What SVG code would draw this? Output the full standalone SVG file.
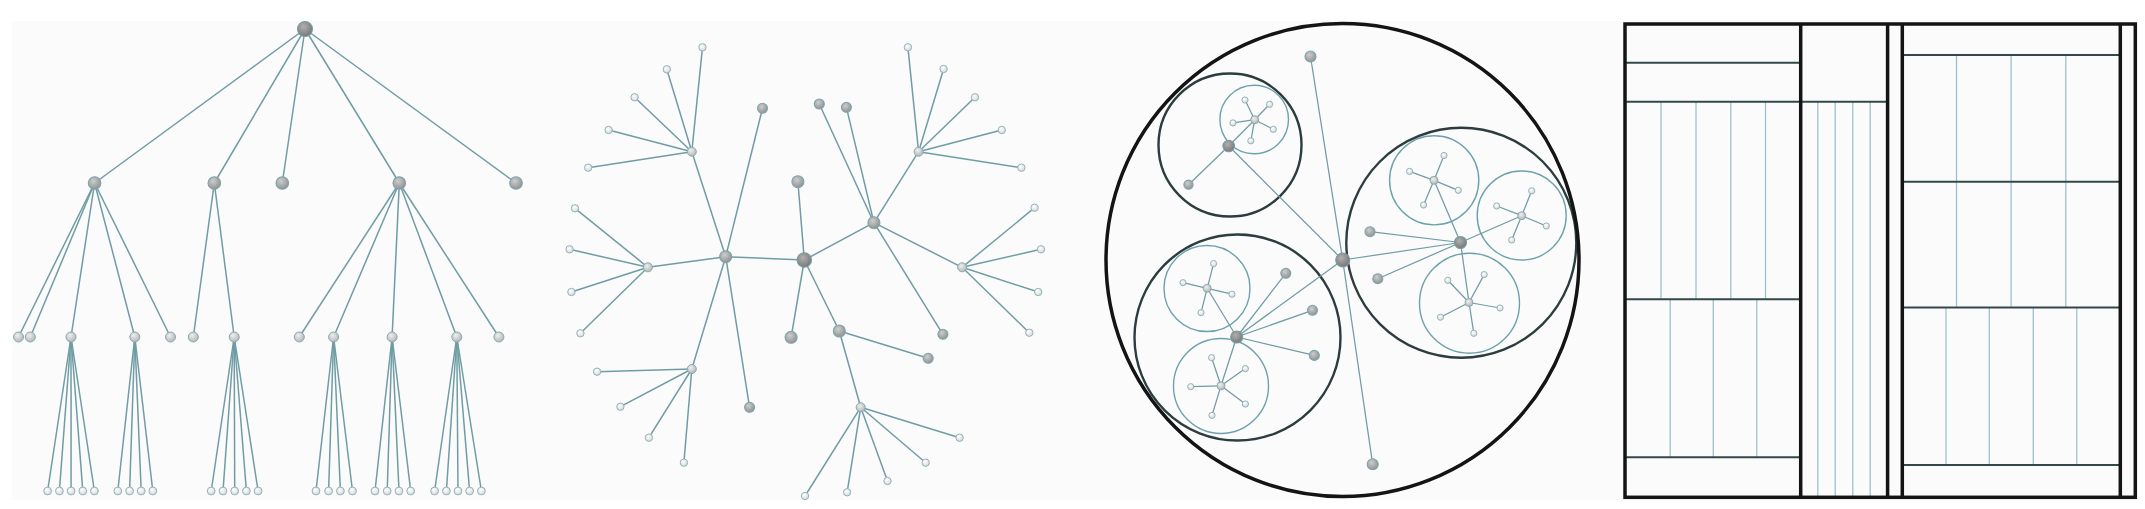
<svg xmlns="http://www.w3.org/2000/svg" width="2145" height="509" viewBox="0 0 2145 509">
<defs>
<radialGradient id="g0" cx="0.4" cy="0.35" r="0.7"><stop offset="0" stop-color="#b0b0b0"/><stop offset="1" stop-color="#747474"/></radialGradient>
<radialGradient id="g1" cx="0.4" cy="0.35" r="0.7"><stop offset="0" stop-color="#cdcdcd"/><stop offset="1" stop-color="#8e8e8e"/></radialGradient>
<radialGradient id="g2" cx="0.4" cy="0.35" r="0.7"><stop offset="0" stop-color="#eeeeee"/><stop offset="1" stop-color="#b2b2b2"/></radialGradient>
<radialGradient id="g3" cx="0.4" cy="0.35" r="0.7"><stop offset="0" stop-color="#ffffff"/><stop offset="1" stop-color="#d4d4d4"/></radialGradient>
</defs>
<style>
.e line{stroke:#6f9ca5;stroke-width:1.5;fill:none}
.e2 line{stroke:#6f9ca5;stroke-width:1.25;fill:none}
.n0 circle{fill:url(#g0);stroke:#7a9ca3;stroke-width:1.1}
.n1 circle{fill:url(#g1);stroke:#7ea4ac;stroke-width:1.1}
.n2 circle{fill:url(#g2);stroke:#88abb2;stroke-width:1}
.n3 circle{fill:url(#g3);stroke:#93b5bc;stroke-width:1}
.c0{fill:none;stroke:#141414;stroke-width:3.5}
.c1{fill:none;stroke:#2d3c3e;stroke-width:2.4}
.c2{fill:none;stroke:#6da2ad;stroke-width:1.4}
.tl{stroke:#9dc1cc;stroke-width:1.3}
.th{stroke:#34474a;stroke-width:2}
.tk{stroke:#141414;stroke-width:3.5;fill:none}
</style>
<rect x="0" y="0" width="2145" height="509" fill="#ffffff"/>
<rect x="12" y="21" width="2126" height="479" fill="#fcfbfb"/>

<!-- ===== Panel 1: tree ===== -->
<g id="tree-edges" class="e">
<line x1="305" y1="29" x2="94.6" y2="183"/><line x1="305" y1="29" x2="214.3" y2="183"/><line x1="305" y1="29" x2="282.3" y2="183"/><line x1="305" y1="29" x2="399.3" y2="183"/><line x1="305" y1="29" x2="516" y2="183"/>
<line x1="94.6" y1="183" x2="18.5" y2="337"/><line x1="94.6" y1="183" x2="30.3" y2="337"/><line x1="94.6" y1="183" x2="71" y2="337"/><line x1="94.6" y1="183" x2="134.8" y2="337"/><line x1="94.6" y1="183" x2="170.5" y2="337"/>
<line x1="214.3" y1="183" x2="193.3" y2="337"/><line x1="214.3" y1="183" x2="234.2" y2="337"/>
<line x1="399.3" y1="183" x2="299.3" y2="337"/><line x1="399.3" y1="183" x2="333.6" y2="337"/><line x1="399.3" y1="183" x2="392.1" y2="337"/><line x1="399.3" y1="183" x2="456.8" y2="337"/><line x1="399.3" y1="183" x2="498.9" y2="337"/>
<line x1="71" y1="337" x2="47.6" y2="491"/><line x1="71" y1="337" x2="59.4" y2="491"/><line x1="71" y1="337" x2="71.1" y2="491"/><line x1="71" y1="337" x2="82.8" y2="491"/><line x1="71" y1="337" x2="94.4" y2="491"/>
<line x1="134.8" y1="337" x2="117.8" y2="491"/><line x1="134.8" y1="337" x2="129.6" y2="491"/><line x1="134.8" y1="337" x2="141.2" y2="491"/><line x1="134.8" y1="337" x2="152.8" y2="491"/>
<line x1="234.2" y1="337" x2="211.2" y2="491"/><line x1="234.2" y1="337" x2="223" y2="491"/><line x1="234.2" y1="337" x2="234.7" y2="491"/><line x1="234.2" y1="337" x2="246.4" y2="491"/><line x1="234.2" y1="337" x2="258.1" y2="491"/>
<line x1="333.6" y1="337" x2="316" y2="491"/><line x1="333.6" y1="337" x2="328.6" y2="491"/><line x1="333.6" y1="337" x2="340.4" y2="491"/><line x1="333.6" y1="337" x2="352.5" y2="491"/>
<line x1="392.1" y1="337" x2="375" y2="491"/><line x1="392.1" y1="337" x2="387.2" y2="491"/><line x1="392.1" y1="337" x2="399" y2="491"/><line x1="392.1" y1="337" x2="410.7" y2="491"/>
<line x1="456.8" y1="337" x2="434.6" y2="491"/><line x1="456.8" y1="337" x2="446.4" y2="491"/><line x1="456.8" y1="337" x2="458" y2="491"/><line x1="456.8" y1="337" x2="469.6" y2="491"/><line x1="456.8" y1="337" x2="481.4" y2="491"/>
</g>
<g id="tree-nodes">
<g id="t-root" class="n0"><circle cx="305" cy="29" r="7.5"/></g>
<g id="t-a" class="n1"><circle cx="94.6" cy="183" r="6.3"/></g>
<g id="t-b" class="n1"><circle cx="214.3" cy="183" r="6.3"/></g>
<g id="t-c" class="n1"><circle cx="282.3" cy="183" r="6.3"/></g>
<g id="t-d" class="n1"><circle cx="399.3" cy="183" r="6.3"/></g>
<g id="t-e" class="n1"><circle cx="516" cy="183" r="6.3"/></g>
<g id="t-a1" class="n2"><circle cx="18.5" cy="337" r="5"/></g>
<g id="t-a2" class="n2"><circle cx="30.3" cy="337" r="5"/></g>
<g id="t-a3" class="n2"><circle cx="71" cy="337" r="5"/></g>
<g id="t-a4" class="n2"><circle cx="134.8" cy="337" r="5"/></g>
<g id="t-a5" class="n2"><circle cx="170.5" cy="337" r="5"/></g>
<g id="t-b1" class="n2"><circle cx="193.3" cy="337" r="5"/></g>
<g id="t-b2" class="n2"><circle cx="234.2" cy="337" r="5"/></g>
<g id="t-d1" class="n2"><circle cx="299.3" cy="337" r="5"/></g>
<g id="t-d2" class="n2"><circle cx="333.6" cy="337" r="5"/></g>
<g id="t-d3" class="n2"><circle cx="392.1" cy="337" r="5"/></g>
<g id="t-d4" class="n2"><circle cx="456.8" cy="337" r="5"/></g>
<g id="t-d5" class="n2"><circle cx="498.9" cy="337" r="5"/></g>
<g id="t-leaves" class="n3">
<g id="t-l1"><circle cx="47.6" cy="491" r="3.9"/></g><g id="t-l2"><circle cx="59.4" cy="491" r="3.9"/></g><g id="t-l3"><circle cx="71.1" cy="491" r="3.9"/></g><g id="t-l4"><circle cx="82.8" cy="491" r="3.9"/></g><g id="t-l5"><circle cx="94.4" cy="491" r="3.9"/></g>
<g id="t-l6"><circle cx="117.8" cy="491" r="3.9"/></g><g id="t-l7"><circle cx="129.6" cy="491" r="3.9"/></g><g id="t-l8"><circle cx="141.2" cy="491" r="3.9"/></g><g id="t-l9"><circle cx="152.8" cy="491" r="3.9"/></g>
<g id="t-l10"><circle cx="211.2" cy="491" r="3.9"/></g><g id="t-l11"><circle cx="223" cy="491" r="3.9"/></g><g id="t-l12"><circle cx="234.7" cy="491" r="3.9"/></g><g id="t-l13"><circle cx="246.4" cy="491" r="3.9"/></g><g id="t-l14"><circle cx="258.1" cy="491" r="3.9"/></g>
<g id="t-l15"><circle cx="316" cy="491" r="3.9"/></g><g id="t-l16"><circle cx="328.6" cy="491" r="3.9"/></g><g id="t-l17"><circle cx="340.4" cy="491" r="3.9"/></g><g id="t-l18"><circle cx="352.5" cy="491" r="3.9"/></g>
<g id="t-l19"><circle cx="375" cy="491" r="3.9"/></g><g id="t-l20"><circle cx="387.2" cy="491" r="3.9"/></g><g id="t-l21"><circle cx="399" cy="491" r="3.9"/></g><g id="t-l22"><circle cx="410.7" cy="491" r="3.9"/></g>
<g id="t-l23"><circle cx="434.6" cy="491" r="3.9"/></g><g id="t-l24"><circle cx="446.4" cy="491" r="3.9"/></g><g id="t-l25"><circle cx="458" cy="491" r="3.9"/></g><g id="t-l26"><circle cx="469.6" cy="491" r="3.9"/></g><g id="t-l27"><circle cx="481.4" cy="491" r="3.9"/></g>
</g>
</g>

<!-- ===== Panel 2: radial tree ===== -->
<g id="radial-edges" class="e">
<line x1="804.3" y1="260" x2="725.7" y2="256.7"/><line x1="804.3" y1="260" x2="797.9" y2="181.7"/><line x1="804.3" y1="260" x2="791.1" y2="337.3"/><line x1="804.3" y1="260" x2="873.9" y2="222.7"/><line x1="804.3" y1="260" x2="839.3" y2="331"/>
<line x1="725.7" y1="256.7" x2="691.8" y2="151.7"/><line x1="725.7" y1="256.7" x2="762.5" y2="108.3"/><line x1="725.7" y1="256.7" x2="647.9" y2="267.3"/><line x1="725.7" y1="256.7" x2="691.8" y2="369"/><line x1="725.7" y1="256.7" x2="749.6" y2="407.3"/>
<line x1="691.8" y1="151.7" x2="702.5" y2="47.3"/><line x1="691.8" y1="151.7" x2="666.8" y2="69.3"/><line x1="691.8" y1="151.7" x2="634.6" y2="97.3"/><line x1="691.8" y1="151.7" x2="608.6" y2="130"/><line x1="691.8" y1="151.7" x2="588.2" y2="167.7"/>
<line x1="647.9" y1="267.3" x2="575" y2="208.3"/><line x1="647.9" y1="267.3" x2="569.6" y2="249.3"/><line x1="647.9" y1="267.3" x2="571.4" y2="292"/><line x1="647.9" y1="267.3" x2="580.4" y2="333.3"/>
<line x1="691.8" y1="369" x2="597.1" y2="371.7"/><line x1="691.8" y1="369" x2="620.4" y2="406.7"/><line x1="691.8" y1="369" x2="648.9" y2="437.7"/><line x1="691.8" y1="369" x2="683.9" y2="462.7"/>
<line x1="873.9" y1="222.7" x2="819.3" y2="104"/><line x1="873.9" y1="222.7" x2="846.4" y2="107.3"/><line x1="873.9" y1="222.7" x2="918.6" y2="151.7"/><line x1="873.9" y1="222.7" x2="962.1" y2="267.3"/><line x1="873.9" y1="222.7" x2="942.9" y2="334.3"/>
<line x1="918.6" y1="151.7" x2="907.9" y2="47.3"/><line x1="918.6" y1="151.7" x2="943.6" y2="69"/><line x1="918.6" y1="151.7" x2="975" y2="97.3"/><line x1="918.6" y1="151.7" x2="1001.8" y2="130"/><line x1="918.6" y1="151.7" x2="1021.4" y2="167.7"/>
<line x1="962.1" y1="267.3" x2="1034.6" y2="207.7"/><line x1="962.1" y1="267.3" x2="1041" y2="249.3"/><line x1="962.1" y1="267.3" x2="1038.2" y2="292"/><line x1="962.1" y1="267.3" x2="1029.3" y2="332.7"/>
<line x1="839.3" y1="331" x2="928.2" y2="358.3"/><line x1="839.3" y1="331" x2="860.7" y2="407.3"/>
<line x1="860.7" y1="407.3" x2="959.6" y2="437.7"/><line x1="860.7" y1="407.3" x2="925.7" y2="462.7"/><line x1="860.7" y1="407.3" x2="887.5" y2="481"/><line x1="860.7" y1="407.3" x2="847.1" y2="492.3"/><line x1="860.7" y1="407.3" x2="805" y2="496"/>
</g>
<g id="radial-nodes">
<g id="r-root" class="n0"><circle cx="804.3" cy="260" r="7.2"/></g>
<g id="r-a" class="n1"><circle cx="725.7" cy="256.7" r="6"/></g>
<g id="r-top" class="n1"><circle cx="797.9" cy="181.7" r="6"/></g>
<g id="r-bottom" class="n1"><circle cx="791.1" cy="337.3" r="6"/></g>
<g id="r-b" class="n1"><circle cx="873.9" cy="222.7" r="6"/></g>
<g id="r-d" class="n1"><circle cx="839.3" cy="331" r="6"/></g>
<g id="r-a-tl" class="n1"><circle cx="762.5" cy="108.3" r="5"/></g>
<g id="r-a-bl" class="n1"><circle cx="749.6" cy="407.3" r="5"/></g>
<g id="r-b-l1" class="n1"><circle cx="819.3" cy="104" r="5"/></g>
<g id="r-b-l2" class="n1"><circle cx="846.4" cy="107.3" r="5"/></g>
<g id="r-b-l3" class="n1"><circle cx="942.9" cy="334.3" r="5"/></g>
<g id="r-d-l1" class="n1"><circle cx="928.2" cy="358.3" r="5"/></g>
<g id="r-a1" class="n2"><circle cx="691.8" cy="151.7" r="4.5"/></g>
<g id="r-a2" class="n2"><circle cx="647.9" cy="267.3" r="4.5"/></g>
<g id="r-a3" class="n2"><circle cx="691.8" cy="369" r="4.5"/></g>
<g id="r-b1" class="n2"><circle cx="918.6" cy="151.7" r="4.5"/></g>
<g id="r-b2" class="n2"><circle cx="962.1" cy="267.3" r="4.5"/></g>
<g id="r-d1" class="n2"><circle cx="860.7" cy="407.3" r="4.5"/></g>
<g id="r-leaves" class="n3">
<g id="r-l1"><circle cx="702.5" cy="47.3" r="3.7"/></g><g id="r-l2"><circle cx="666.8" cy="69.3" r="3.7"/></g><g id="r-l3"><circle cx="634.6" cy="97.3" r="3.7"/></g><g id="r-l4"><circle cx="608.6" cy="130" r="3.7"/></g><g id="r-l5"><circle cx="588.2" cy="167.7" r="3.7"/></g>
<g id="r-l6"><circle cx="575" cy="208.3" r="3.7"/></g><g id="r-l7"><circle cx="569.6" cy="249.3" r="3.7"/></g><g id="r-l8"><circle cx="571.4" cy="292" r="3.7"/></g><g id="r-l9"><circle cx="580.4" cy="333.3" r="3.7"/></g>
<g id="r-l10"><circle cx="597.1" cy="371.7" r="3.7"/></g><g id="r-l11"><circle cx="620.4" cy="406.7" r="3.7"/></g><g id="r-l12"><circle cx="648.9" cy="437.7" r="3.7"/></g><g id="r-l13"><circle cx="683.9" cy="462.7" r="3.7"/></g>
<g id="r-l14"><circle cx="907.9" cy="47.3" r="3.7"/></g><g id="r-l15"><circle cx="943.6" cy="69" r="3.7"/></g><g id="r-l16"><circle cx="975" cy="97.3" r="3.7"/></g><g id="r-l17"><circle cx="1001.8" cy="130" r="3.7"/></g><g id="r-l18"><circle cx="1021.4" cy="167.7" r="3.7"/></g>
<g id="r-l19"><circle cx="1034.6" cy="207.7" r="3.7"/></g><g id="r-l20"><circle cx="1041" cy="249.3" r="3.7"/></g><g id="r-l21"><circle cx="1038.2" cy="292" r="3.7"/></g><g id="r-l22"><circle cx="1029.3" cy="332.7" r="3.7"/></g>
<g id="r-l23"><circle cx="959.6" cy="437.7" r="3.7"/></g><g id="r-l24"><circle cx="925.7" cy="462.7" r="3.7"/></g><g id="r-l25"><circle cx="887.5" cy="481" r="3.7"/></g><g id="r-l26"><circle cx="847.1" cy="492.3" r="3.7"/></g><g id="r-l27"><circle cx="805" cy="496" r="3.7"/></g>
</g>
</g>

<!-- ===== Panel 3: circle packing ===== -->
<g id="pack-circles">
<circle class="c2" cx="1254.2" cy="119.5" r="34.3"/>
<circle class="c2" cx="1434.2" cy="180.3" r="44.6"/>
<circle class="c2" cx="1521.7" cy="215.5" r="44.5"/>
<circle class="c2" cx="1469.5" cy="303.2" r="50"/>
<circle class="c2" cx="1207" cy="288.5" r="43"/>
<circle class="c2" cx="1221" cy="386" r="47.5"/>
<circle class="c1" cx="1230" cy="145" r="71.5"/>
<circle class="c1" cx="1461.3" cy="242.8" r="115"/>
<circle class="c1" cx="1237.5" cy="337.5" r="103"/>
<circle class="c0" cx="1342.5" cy="260" r="236.5"/>
</g>
<g id="pack-edges" class="e2">
<line x1="1342.7" y1="260" x2="1310.5" y2="56.5"/><line x1="1342.7" y1="260" x2="1372.7" y2="464.3"/><line x1="1342.7" y1="260" x2="1228.7" y2="146"/><line x1="1342.7" y1="260" x2="1460.5" y2="242.5"/><line x1="1342.7" y1="260" x2="1236.7" y2="337"/>
<line x1="1228.7" y1="146" x2="1188.5" y2="184.7"/><line x1="1228.7" y1="146" x2="1254.7" y2="119.7"/>
<line x1="1254.7" y1="119.7" x2="1245" y2="100"/><line x1="1254.7" y1="119.7" x2="1269.6" y2="104.3"/><line x1="1254.7" y1="119.7" x2="1273.3" y2="129.3"/><line x1="1254.7" y1="119.7" x2="1250.8" y2="140.8"/><line x1="1254.7" y1="119.7" x2="1233" y2="122.9"/>
<line x1="1460.5" y1="242.5" x2="1370" y2="231.7"/><line x1="1460.5" y1="242.5" x2="1377.8" y2="278.7"/><line x1="1460.5" y1="242.5" x2="1434" y2="180.3"/><line x1="1460.5" y1="242.5" x2="1521.7" y2="215.7"/><line x1="1460.5" y1="242.5" x2="1469" y2="302.5"/>
<line x1="1434" y1="180.3" x2="1444" y2="155.5"/><line x1="1434" y1="180.3" x2="1409.6" y2="171.4"/><line x1="1434" y1="180.3" x2="1458.3" y2="190.3"/><line x1="1434" y1="180.3" x2="1423.6" y2="205"/>
<line x1="1521.7" y1="215.7" x2="1531.7" y2="190.8"/><line x1="1521.7" y1="215.7" x2="1496.7" y2="206"/><line x1="1521.7" y1="215.7" x2="1546.3" y2="226"/><line x1="1521.7" y1="215.7" x2="1511.7" y2="240"/>
<line x1="1469" y1="302.5" x2="1447.8" y2="280.3"/><line x1="1469" y1="302.5" x2="1484.2" y2="274.6"/><line x1="1469" y1="302.5" x2="1500" y2="308"/><line x1="1469" y1="302.5" x2="1440.5" y2="317.2"/><line x1="1469" y1="302.5" x2="1473.8" y2="333.3"/>
<line x1="1236.7" y1="337" x2="1285.8" y2="273.3"/><line x1="1236.7" y1="337" x2="1312.5" y2="310.3"/><line x1="1236.7" y1="337" x2="1314.3" y2="355.4"/><line x1="1236.7" y1="337" x2="1207.2" y2="288.3"/><line x1="1236.7" y1="337" x2="1221" y2="385.8"/>
<line x1="1207.2" y1="288.3" x2="1213.6" y2="263.6"/><line x1="1207.2" y1="288.3" x2="1183" y2="282.7"/><line x1="1207.2" y1="288.3" x2="1232" y2="294.2"/><line x1="1207.2" y1="288.3" x2="1201" y2="312.7"/>
<line x1="1221" y1="385.8" x2="1211.6" y2="357.7"/><line x1="1221" y1="385.8" x2="1245.4" y2="368.6"/><line x1="1221" y1="385.8" x2="1190.7" y2="386.7"/><line x1="1221" y1="385.8" x2="1245.4" y2="404"/><line x1="1221" y1="385.8" x2="1212" y2="415.4"/>
</g>
<g id="pack-nodes">
<g id="p-root" class="n0"><circle cx="1342.7" cy="260" r="7"/></g>
<g id="p-top" class="n1"><circle cx="1310.5" cy="56.5" r="5.5"/></g>
<g id="p-bottom" class="n1"><circle cx="1372.7" cy="464.3" r="5.5"/></g>
<g id="p-tl" class="n0"><circle cx="1228.7" cy="146" r="5.8"/></g>
<g id="p-tl-leaf" class="n1"><circle cx="1188.5" cy="184.7" r="4.6"/></g>
<g id="p-r" class="n0"><circle cx="1460.5" cy="242.5" r="6"/></g>
<g id="p-r-l1" class="n1"><circle cx="1370" cy="231.7" r="5"/></g>
<g id="p-r-l2" class="n1"><circle cx="1377.8" cy="278.7" r="5"/></g>
<g id="p-bl" class="n0"><circle cx="1236.7" cy="337" r="6"/></g>
<g id="p-bl-l1" class="n1"><circle cx="1285.8" cy="273.3" r="5"/></g>
<g id="p-bl-l2" class="n1"><circle cx="1312.5" cy="310.3" r="5"/></g>
<g id="p-bl-l3" class="n1"><circle cx="1314.3" cy="355.4" r="5"/></g>
<g id="p-tli" class="n2"><circle cx="1254.7" cy="119.7" r="4"/></g>
<g id="p-r1" class="n2"><circle cx="1434" cy="180.3" r="4"/></g>
<g id="p-r2" class="n2"><circle cx="1521.7" cy="215.7" r="4"/></g>
<g id="p-r3" class="n2"><circle cx="1469" cy="302.5" r="4"/></g>
<g id="p-bl1" class="n2"><circle cx="1207.2" cy="288.3" r="4"/></g>
<g id="p-bl2" class="n2"><circle cx="1221" cy="385.8" r="4"/></g>
<g id="p-leaves" class="n3">
<g id="p-l1"><circle cx="1245" cy="100" r="3.1"/></g><g id="p-l2"><circle cx="1269.6" cy="104.3" r="3.1"/></g><g id="p-l3"><circle cx="1273.3" cy="129.3" r="3.1"/></g><g id="p-l4"><circle cx="1250.8" cy="140.8" r="3.1"/></g><g id="p-l5"><circle cx="1233" cy="122.9" r="3.1"/></g>
<g id="p-l6"><circle cx="1444" cy="155.5" r="3.1"/></g><g id="p-l7"><circle cx="1409.6" cy="171.4" r="3.1"/></g><g id="p-l8"><circle cx="1458.3" cy="190.3" r="3.1"/></g><g id="p-l9"><circle cx="1423.6" cy="205" r="3.1"/></g>
<g id="p-l10"><circle cx="1531.7" cy="190.8" r="3.1"/></g><g id="p-l11"><circle cx="1496.7" cy="206" r="3.1"/></g><g id="p-l12"><circle cx="1546.3" cy="226" r="3.1"/></g><g id="p-l13"><circle cx="1511.7" cy="240" r="3.1"/></g>
<g id="p-l14"><circle cx="1447.8" cy="280.3" r="3.1"/></g><g id="p-l15"><circle cx="1484.2" cy="274.6" r="3.1"/></g><g id="p-l16"><circle cx="1500" cy="308" r="3.1"/></g><g id="p-l17"><circle cx="1440.5" cy="317.2" r="3.1"/></g><g id="p-l18"><circle cx="1473.8" cy="333.3" r="3.1"/></g>
<g id="p-l19"><circle cx="1213.6" cy="263.6" r="3.1"/></g><g id="p-l20"><circle cx="1183" cy="282.7" r="3.1"/></g><g id="p-l21"><circle cx="1232" cy="294.2" r="3.1"/></g><g id="p-l22"><circle cx="1201" cy="312.7" r="3.1"/></g>
<g id="p-l23"><circle cx="1211.6" cy="357.7" r="3.1"/></g><g id="p-l24"><circle cx="1245.4" cy="368.6" r="3.1"/></g><g id="p-l25"><circle cx="1190.7" cy="386.7" r="3.1"/></g><g id="p-l26"><circle cx="1245.4" cy="404" r="3.1"/></g><g id="p-l27"><circle cx="1212" cy="415.4" r="3.1"/></g>
</g>
</g>

<!-- ===== Panel 4: treemap ===== -->
<g id="treemap">
<g class="tl">
<line x1="1661" y1="101.8" x2="1661" y2="299.3"/><line x1="1696" y1="101.8" x2="1696" y2="299.3"/><line x1="1730.8" y1="101.8" x2="1730.8" y2="299.3"/><line x1="1765.5" y1="101.8" x2="1765.5" y2="299.3"/>
<line x1="1670.2" y1="299.3" x2="1670.2" y2="457.3"/><line x1="1713.3" y1="299.3" x2="1713.3" y2="457.3"/><line x1="1756.8" y1="299.3" x2="1756.8" y2="457.3"/>
<line x1="1817.8" y1="101.8" x2="1817.8" y2="497.3"/><line x1="1835.2" y1="101.8" x2="1835.2" y2="497.3"/><line x1="1852.8" y1="101.8" x2="1852.8" y2="497.3"/><line x1="1870.2" y1="101.8" x2="1870.2" y2="497.3"/>
<line x1="1956.5" y1="55" x2="1956.5" y2="307.5"/><line x1="2011.1" y1="55" x2="2011.1" y2="307.5"/><line x1="2065.8" y1="55" x2="2065.8" y2="307.5"/>
<line x1="1946" y1="307.5" x2="1946" y2="465"/><line x1="1989.3" y1="307.5" x2="1989.3" y2="465"/><line x1="2033.3" y1="307.5" x2="2033.3" y2="465"/><line x1="2076.8" y1="307.5" x2="2076.8" y2="465"/>
</g>
<g class="th">
<line x1="1625" y1="62.7" x2="1800.7" y2="62.7"/><line x1="1625" y1="101.8" x2="1887.6" y2="101.8"/><line x1="1625" y1="299.3" x2="1800.7" y2="299.3"/><line x1="1625" y1="457.3" x2="1800.7" y2="457.3"/>
<line x1="1902.3" y1="55" x2="2120.3" y2="55"/><line x1="1902.3" y1="181.7" x2="2120.3" y2="181.7"/><line x1="1902.3" y1="307.5" x2="2120.3" y2="307.5"/><line x1="1902.3" y1="465" x2="2120.3" y2="465"/>
</g>
<g class="tk">
<line x1="1800.7" y1="24" x2="1800.7" y2="497.3"/><line x1="1887.6" y1="24" x2="1887.6" y2="497.3"/><line x1="1902.3" y1="24" x2="1902.3" y2="497.3"/><line x1="2120.3" y1="24" x2="2120.3" y2="497.3"/>
<rect x="1625" y="24" width="510.3" height="473.3"/>
</g>
</g>
</svg>
